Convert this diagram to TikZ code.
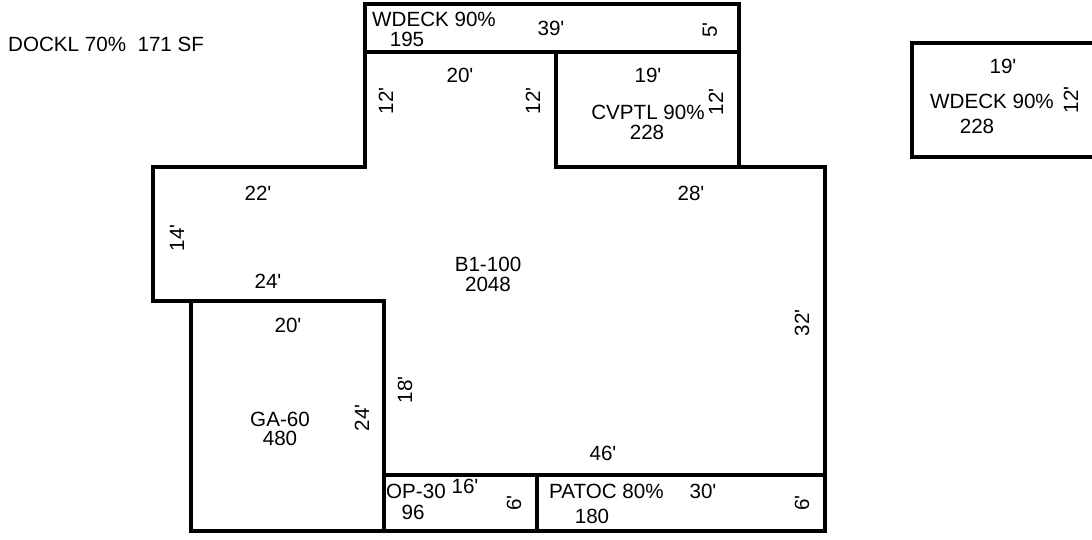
\documentclass[tikz,border=0pt]{standalone}
\usepackage{fontspec}
\setmainfont{Liberation Sans}[Ligatures=TeXOff]
\tikzset{
 wall/.style={draw=black,line width=4.4pt,line join=miter,line cap=butt},
 lbl/.style={inner sep=0pt,font=\fontsize{20.6}{21}\selectfont,text=black},
 vlbl/.style={lbl,rotate=90},
}
\begin{document}
\begin{tikzpicture}[x=1pt,y=-1pt]
\useasboundingbox (0,0) rectangle (1092,539);
\fill[white] (0,0) rectangle (1092,539);
% outline and rooms
\draw[wall] (365,52) -- (365,4) -- (739,4) -- (739,167) -- (825,167) -- (825,531) -- (191,531) -- (191,301) -- (153,301) -- (153,167) -- (365,167) -- (365,52) -- (739,52);
\draw[wall] (556,52) -- (556,167) -- (739,167);
\draw[wall] (191,301) -- (384,301) -- (384,531);
\draw[wall] (384,475) -- (825,475);
\draw[wall] (537,475) -- (537,531);
\draw[wall] (1092,43) -- (912,43) -- (912,157) -- (1092,157);
% texts
\node[lbl,anchor=west] (dockl) at (8,44) {DOCKL 70\%\ \ 171 SF};
\node[lbl,anchor=west] (wd1) at (372,19) {WDECK 90\%};
\node[lbl] (wd1a) at (407,39) {195};
\node[lbl] (d39) at (551,28) {39'};
\node[vlbl] (d5) at (710,30) {5'};
\node[lbl] (d20a) at (460,75) {20'};
\node[lbl] (d19a) at (648,75) {19'};
\node[vlbl] (d12a) at (386,101) {12'};
\node[vlbl] (d12b) at (533,101) {12'};
\node[vlbl] (d12c) at (716,102) {12'};
\node[lbl] (cv) at (648,112) {CVPTL 90\%};
\node[lbl] (cva) at (647,132) {228};
\node[lbl] (d22) at (258,193) {22'};
\node[lbl] (d28) at (691,193) {28'};
\node[vlbl] (d14) at (177,238) {14'};
\node[lbl] (d24a) at (268,281) {24'};
\node[lbl] (b1) at (488,264) {B1-100};
\node[lbl] (b1a) at (488,284) {2048};
\node[lbl] (d20b) at (288,325) {20'};
\node[vlbl] (d32) at (802,323) {32'};
\node[vlbl] (d18) at (405,390) {18'};
\node[vlbl] (d24b) at (362,418) {24'};
\node[lbl] (ga) at (280,419) {GA-60};
\node[lbl] (gaa) at (280,438) {480};
\node[lbl] (d46) at (603,453) {46'};
\node[lbl,anchor=west] (op) at (386,491) {OP-30};
\node[lbl] (d16) at (465,486) {16'};
\node[lbl] (opa) at (413,512) {96};
\node[vlbl] (d6a) at (514,503) {6'};
\node[lbl,anchor=west] (pa) at (549,491) {PATOC 80\%};
\node[lbl] (d30) at (703,491) {30'};
\node[lbl] (paa) at (592,516) {180};
\node[vlbl] (d6b) at (802,503) {6'};
\node[lbl] (d19b) at (1003,66) {19'};
\node[lbl] (wd2) at (992,101) {WDECK 90\%};
\node[lbl] (wd2a) at (977,126) {228};
\node[vlbl] (d12d) at (1071,100) {12'};
\end{tikzpicture}
\end{document}
